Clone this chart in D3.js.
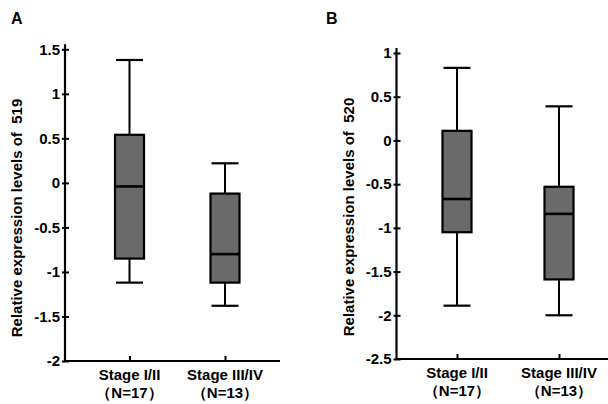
<!DOCTYPE html>
<html>
<head>
<meta charset="utf-8">
<script src="https://cdn.jsdelivr.net/npm/d3@7"></script>
<style>
  body { margin: 0; background: #ffffff; }
  svg text { font-family: "Liberation Sans", Arial, sans-serif; font-weight: bold; fill: #000; }
</style>
</head>
<body>
<div id="chart"></div>
<script>
// categories and group sizes (shared by both panels)
var stages = ["Stage I/II", "Stage III/IV"];
var counts = ["（N=17）", "（N=13）"];

// panel A: miR-519 box statistics, one value per stage
var low519 = [-1.12, -1.38];
var q1_519 = [-0.85, -1.12];
var med519 = [-0.04, -0.80];
var q3_519 = [0.54, -0.12];
var high519 = [1.38, 0.22];
var ticks519 = [1.5, 1, 0.5, 0, -0.5, -1, -1.5, -2];

// panel B: miR-520 box statistics
var low520 = [-1.89, -2.0];
var q1_520 = [-1.05, -1.59];
var med520 = [-0.67, -0.84];
var q3_520 = [0.11, -0.53];
var high520 = [0.83, 0.39];
var ticks520 = [1, 0.5, 0, -0.5, -1, -1.5, -2, -2.5];

var svg = d3.select("#chart").append("svg")
  .attr("width", 608)
  .attr("height", 404);

// build one row per stage for a panel
function makeRows(low, q1, med, q3, high) {
  return stages.map(function(s, i) {
    return { stage: s, n: counts[i], low: low[i], q1: q1[i], med: med[i], q3: q3[i], high: high[i] };
  });
}

/*
 draws one boxplot panel
 p.axisX / p.axisY : where the two axis lines meet
 p.top : pixel of the highest tick, p.right : end of x axis line
 p.cats : pixel centres of the two categories
*/
function drawPanel(p) {
  var g = svg.append("g");

  var y = d3.scaleLinear().domain(p.domain).range([p.axisY, p.top]);
  var x = d3.scalePoint().domain(stages).range(p.cats);
  var boxW = 29, capW = 27;

  // y axis, small ticks crossing the line
  var yAxis = d3.axisLeft(y)
    .tickValues(p.ticks)
    .tickSizeInner(-4)
    .tickSizeOuter(0)
    .tickPadding(5)
    .tickFormat(function(d) { return String(d); });
  var ya = g.append("g").attr("transform", "translate(" + p.axisX + ",0)").call(yAxis);
  ya.select(".domain").remove();
  ya.selectAll(".tick line").attr("x1", -3).attr("x2", 4)
    .attr("stroke", "#000").attr("stroke-width", 2);
  ya.selectAll(".tick text").attr("font-size", 15).attr("font-family", null);

  // x axis ticks (no labels from the axis itself)
  var xAxis = d3.axisBottom(x).tickSizeInner(-5).tickSizeOuter(0).tickFormat("");
  var xa = g.append("g").attr("transform", "translate(0," + p.axisY + ")").call(xAxis);
  xa.select(".domain").remove();
  xa.selectAll(".tick line").attr("stroke", "#000").attr("stroke-width", 2);

  // axis lines
  g.append("line")
    .attr("x1", p.axisX).attr("x2", p.axisX)
    .attr("y1", p.top - 5).attr("y2", p.axisY + 1)
    .attr("stroke", "#000").attr("stroke-width", 2.2);
  g.append("line")
    .attr("x1", p.axisX).attr("x2", p.right)
    .attr("y1", p.axisY).attr("y2", p.axisY)
    .attr("stroke", "#000").attr("stroke-width", 2.2);

  // category labels, two lines each
  g.selectAll("text.cat")
    .data(p.rows)
    .enter()
    .append("text")
    .attr("class", "cat")
    .attr("text-anchor", "middle")
    .attr("font-size", 15)
    .attr("x", function(d) { return x(d.stage); })
    .attr("y", p.axisY + 19)
    .text(function(d) { return d.stage; });

  g.selectAll("text.cnt")
    .data(p.rows)
    .enter()
    .append("text")
    .attr("class", "cnt")
    .attr("text-anchor", "middle")
    .attr("font-size", 15)
    .attr("x", function(d) { return x(d.stage); })
    .attr("y", p.axisY + 37)
    .text(function(d) { return d.n; });

  // whiskers
  var bx = g.selectAll("g.box")
    .data(p.rows)
    .enter()
    .append("g")
    .attr("class", "box");

  bx.append("line")
    .attr("x1", function(d) { return x(d.stage); })
    .attr("x2", function(d) { return x(d.stage); })
    .attr("y1", function(d) { return y(d.low); })
    .attr("y2", function(d) { return y(d.high); })
    .attr("stroke", "#000").attr("stroke-width", 2);
  ["low", "high"].forEach(function(k) {
    bx.append("line")
      .attr("x1", function(d) { return x(d.stage) - capW / 2; })
      .attr("x2", function(d) { return x(d.stage) + capW / 2; })
      .attr("y1", function(d) { return y(d[k]); })
      .attr("y2", function(d) { return y(d[k]); })
      .attr("stroke", "#000").attr("stroke-width", 2.2);
  });

  // the box itself
  bx.append("rect")
    .attr("x", function(d) { return x(d.stage) - boxW / 2; })
    .attr("width", boxW)
    .attr("y", function(d) { return y(d.q3); })
    .attr("height", function(d) { return y(d.q1) - y(d.q3); })
    .attr("fill", "#6a6a6a")
    .attr("stroke", "#000").attr("stroke-width", 2.2);

  // median
  bx.append("line")
    .attr("x1", function(d) { return x(d.stage) - boxW / 2; })
    .attr("x2", function(d) { return x(d.stage) + boxW / 2; })
    .attr("y1", function(d) { return y(d.med); })
    .attr("y2", function(d) { return y(d.med); })
    .attr("stroke", "#000").attr("stroke-width", 2.6);

  // y title (keeps the double space before the number)
  g.append("text")
    .attr("transform", "translate(" + p.titleX + "," + p.titleY + ") rotate(-90)")
    .attr("text-anchor", "middle")
    .attr("font-size", 15)
    .style("white-space", "pre")
    .text(p.title);

  // panel letter
  g.append("text")
    .attr("x", p.letterX)
    .attr("y", 24)
    .attr("font-size", 16)
    .text(p.letter);
}

drawPanel({
  rows: makeRows(low519, q1_519, med519, q3_519, high519),
  domain: [-2, 1.5],
  ticks: ticks519,
  axisX: 65, axisY: 361, top: 49.3, right: 280,
  cats: [129.5, 225],
  title: "Relative expression levels of  519",
  titleX: 22, titleY: 218,
  letter: "A", letterX: 11
});

drawPanel({
  rows: makeRows(low520, q1_520, med520, q3_520, high520),
  domain: [-2.5, 1],
  ticks: ticks520,
  axisX: 396.5, axisY: 359, top: 53, right: 608,
  cats: [457, 559],
  title: "Relative expression levels of  520",
  titleX: 354, titleY: 217,
  letter: "B", letterX: 326
});
</script>
</body>
</html>
